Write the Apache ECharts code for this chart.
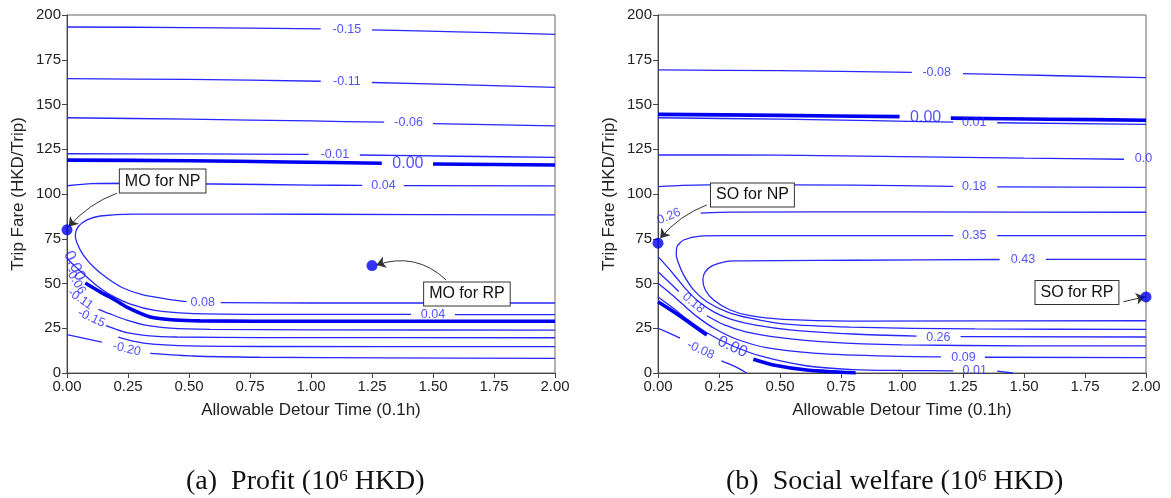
<!DOCTYPE html>
<html><head><meta charset="utf-8">
<script src="https://cdn.jsdelivr.net/npm/echarts@6/dist/echarts.min.js"></script>
<style>html,body{margin:0;padding:0;background:#fff}#c{width:1171px;height:498px}</style>
</head><body><div id="c"></div>
<script>
const GAP = ['-', '-'];
const xTicks = [0, 0.25, 0.5, 0.75, 1.0, 1.25, 1.5, 1.75, 2.0];
const yTicks = [0, 25, 50, 75, 100, 125, 150, 175, 200];

// ---- (a) Profit contours [detour, fare]
const profit_m015 = [[0,193.3],[0.5,193.0],[1.04,192.3],GAP,[1.25,191.7],[1.6,190.6],[2,189.2]];
const profit_m011 = [[0,164.4],[0.5,164.0],[1.04,163.0],GAP,[1.25,162.3],[1.6,161.1],[2,159.6]];
const profit_m006 = [[0,142.6],[0.5,141.8],[1.0,140.8],[1.30,140.1],GAP,[1.50,139.3],[2,138.1]];
const profit_m001 = [[0,122.5],[0.5,122.4],[0.99,122.1],GAP,[1.2,121.8],[1.6,121.1],[2,120.5]];
const profit_000  = [[0,118.9],[0.5,118.6],[0.9,117.9],[1.29,117.2],GAP,[1.50,116.8],[2,116.2]];
const profit_004  = [[0,104.6],[0.1,105.8],[0.25,106.0],[0.6,105.6],[1.0,105.0],[1.21,104.8],GAP,[1.38,104.7],[2,104.5]];
const profit_008  = [[2,88.3],[1.0,88.7],[0.5,88.8],[0.271,88.8],[0.136,87.7],[0.082,85.5],[0.046,81.7],[0.034,77.1],[0.041,72.6],[0.067,65.9],[0.108,59.4],[0.164,53.1],[0.23,47.5],[0.312,43.6],[0.41,41.3],[0.49,39.9],GAP,[0.63,39.3],[1.0,39.1],[2,39.1]];
const profit_004b = [[0,64],[0.03,60],[0.07,55],[0.12,49],[0.18,43.5],[0.26,38.5],[0.36,35],[0.5,33.3],[0.75,32.8],[1.41,32.7],GAP,[1.59,32.6],[2,32.6]];
const profit_000b = [[0.075,50.3],[0.136,45.3],[0.197,40.8],[0.245,36.8],[0.341,31.3],[0.443,29.6],[0.545,29.1],[1.0,28.9],[2,28.9]];
const profit_m006b = [[0.129,35.6],[0.177,33.0],[0.245,29.6],[0.327,26.6],[0.423,25.1],[0.587,24.4],[1.0,24.1],[2,24.0]];
const profit_m011b = [[0.16,26.5],[0.2,24.5],[0.245,22.6],[0.327,20.9],[0.45,20.1],[0.8,19.8],[2,19.7]];
const profit_m015b = [[0.21,20],[0.27,17.8],[0.35,16.1],[0.5,15.1],[0.8,14.8],[2,14.7]];
const profit_m020 = [[0,21.4],[0.143,17.3],GAP,[0.341,11.0],[0.517,9.5],[0.79,8.8],[1.3,8.4],[2,8.2]];
const profitThin = [profit_m015, profit_m011, profit_m006, profit_m001, profit_004, profit_008, profit_004b, profit_m006b, profit_m011b, profit_m015b, profit_m020];
const profitThick = [profit_000, profit_000b];
const profitLabels = [['-0.15',1.147,191.9],['-0.11',1.147,162.6],['-0.06',1.40,139.7],['-0.01',1.098,121.9],['0.00',1.397,116.9],['0.04',1.297,104.7],['0.08',0.556,39.6],['0.04',1.50,32.6],['0.00',0.03,59.8],['-0.06',0.035,51.4],['-0.11',0.055,41.3],['-0.15',0.10,30.7],['-0.20',0.245,13.4]];

// ---- (b) Social welfare contours
const sw_m008 = [[0,169.3],[0.5,168.9],[1.04,168.0],GAP,[1.25,167.3],[1.6,166.2],[2,165.0]];
const sw_000  = [[0,144.5],[0.5,143.9],[0.99,143.2],GAP,[1.2,142.4],[1.6,141.8],[2,141.2]];
const sw_001  = [[0,142.6],[0.5,141.8],[0.88,141.0],[1.21,140.1],GAP,[1.39,139.8],[2,138.9]];
const sw_009  = [[0,121.8],[0.5,121.7],[1.0,120.9],[1.5,120.0],[1.91,119.4]];
const sw_018  = [[0,104.1],[0.1,104.8],[0.3,105.2],[0.8,105.0],[1.21,104.3],GAP,[1.39,104.0],[2,103.7]];
const sw_026  = [[0.175,89.3],[0.3,89.9],[1.0,90.0],[2,89.8]];
const sw_035  = [[2,76.7],[1.39,76.7],GAP,[1.21,76.7],[0.6,76.8],[0.3,76.7],[0.173,76.5],[0.105,74.3],[0.078,70.6],[0.075,65.9],[0.084,61.3],[0.105,54.8],[0.146,46.4],[0.2,39.8],[0.283,34.2],[0.378,30.6],[0.513,27.4],[0.788,25.6],[1.3,24.6],[2,24.4]];
const sw_043  = [[2,63.5],[1.59,63.5],GAP,[1.40,63.4],[0.8,63.0],[0.31,62.6],[0.228,60.3],[0.194,56.6],[0.184,52.0],[0.194,46.4],[0.228,40.8],[0.296,35.2],[0.378,32.0],[0.513,30.0],[0.788,29.0],[2,29.2]];
const sw_026b = [[0,65],[0.04,59],[0.08,52.5],[0.12,46],[0.17,39.5],[0.23,34],[0.3,30],[0.4,26.8],[0.55,24],[0.8,21.8],[1.06,20.6],GAP,[1.24,20.3],[2,20.1]];
const sw_018b = [[0,56.6],[0.04,51.5],[0.085,45.5],GAP,[0.2,32],[0.27,27],[0.36,23],[0.5,19.8],[0.7,17.2],[1.0,15.7],[1.5,15.2],[2,15.1]];
const sw_009b = [[0,50.1],[0.05,44.5],[0.1,38.5],[0.16,31.5],[0.23,25],[0.32,19],[0.45,14],[0.65,11],[0.95,9.4],[1.16,9.0],GAP,[1.34,8.8],[2,8.6]];
const sw_001b = [[0,42.5],[0.06,36.5],[0.12,30],[0.2,22.5],[0.3,15.5],[0.42,9.5],[0.6,4.2],[0.8,1.9],[1.0,1.4],[1.21,1.2],GAP,[1.39,1.0],[1.455,0]];
const sw_000b = [[0,39.8],[0.064,34.2],[0.132,27.8],[0.2,21.2],GAP,[0.391,7.7],[0.473,4.5],[0.61,1.7],[0.788,0.2],[0.81,0]];
const sw_m008b = [[0,25],[0.064,21.2],[0.09,19.5],GAP,[0.26,6.8],[0.31,4],[0.364,0]];
const swThin = [sw_m008, sw_001, sw_009, sw_018, sw_026, sw_035, sw_043, sw_026b, sw_018b, sw_009b, sw_001b, sw_m008b];
const swThick = [sw_000, sw_000b];
const swLabels = [['-0.08',1.142,167.6],['0.00',1.097,142.8],['0.01',1.296,139.8],['0.0',1.99,119.6],['0.18',1.296,104.1],['0.35',1.296,76.7],['0.43',1.496,63.5],['0.26',1.149,20.0],['0.09',1.252,8.7],['0.01',1.298,1.3],['0.26',0.045,87.5],['0.18',0.145,39.1],['0.00',0.305,14.5],['-0.08',0.175,12.8]];

// ---- optimum points and annotation boxes
const profitPoints = [[0,80],[1.25,60]];
const swPoints = [[0,72.5],[2,42.5]];
const profitNotes = [['MO for NP',0.392,107.2],['MO for RP',1.639,44.2]];
const swNotes = [['SO for NP',0.387,99.4],['SO for RP',1.717,45.0]];
const profitArrows = [[[0.204,100.4],[0.007,81.7]],[[1.554,52.0],[1.268,60.3]]];
const swArrows = [[[0.2,93.9],[0.009,75.3]],[[1.907,39.8],[1.996,42.6]]];

// ---- styles
const BLUE = '#2626ff';
const profitRot = [0,0,0,0,0,0,0,0,-65,-60,-35,-25,-13];
const swRot = [0,0,0,0,0,0,0,0,0,0,22,-40,-25,-25];
const profitCurv = [-0.13,-0.3];
const swCurv = [-0.13,0];

function lineSeries(g, data, thick){
  return {type:'line', xAxisIndex:g, yAxisIndex:g, data:data, symbol:'none', showSymbol:false,
    smooth:0.25, connectNulls:false, silent:true, z:2,
    lineStyle:{color: thick ? '#0000f0' : BLUE, width: thick ? 3.6 : 1.3}};
}
function labelSeries(g, labels, rot){
  return {type:'scatter', xAxisIndex:g, yAxisIndex:g, symbolSize:0, silent:true, z:5,
    data: labels.map((l,i)=>({value:[l[1],l[2]], label:{show:true, position:'inside', formatter:l[0],
      rotate: rot[i], fontSize: l[0]==='0.00' ? 16 : 12.5, color: BLUE, fontFamily:'Liberation Sans, Arial'}}))};
}
function pointSeries(g, pts, notes){
  return {type:'scatter', xAxisIndex:g, yAxisIndex:g, symbolSize:11, clip:false, z:6, silent:true,
    itemStyle:{color:'#0000ee'}, data: pts,
    markPoint:{silent:true, symbol:'rect', symbolSize:0, animation:false,
      data: notes.map(n=>({coord:[n[1],n[2]], label:{show:true, position:'inside', formatter:n[0],
        fontSize:16, color:'#111', fontFamily:'Liberation Sans, Arial', backgroundColor:'#fff',
        borderColor:'#333', borderWidth:1, padding:[4,5,3,5]}}))}};
}
function arrowSeries(g, arrows, curv){
  return {type:'lines', coordinateSystem:'cartesian2d', xAxisIndex:g, yAxisIndex:g, silent:true, z:6,
    symbol:['none','arrow'], symbolSize:[7,9], animation:false,
    data: arrows.map((a,i)=>({coords:[a[0],a[1]], lineStyle:{curveness:curv[i]}})),
    lineStyle:{color:'#333', width:1, opacity:1, type:'solid'}};
}
function xAxis(g){
  return {type:'value', gridIndex:g, min:0, max:2, interval:0.25,
    name:'Allowable Detour Time (0.1h)', nameLocation:'middle', nameGap:29,
    nameTextStyle:{fontSize:17, color:'#222', fontFamily:'Liberation Sans, Arial'},
    axisLine:{show:true, lineStyle:{color:'#444'}}, axisTick:{show:true, length:5, lineStyle:{color:'#444'}},
    splitLine:{show:false},
    axisLabel:{fontSize:15, color:'#222', margin:6, fontFamily:'Liberation Sans, Arial', formatter:v=>v.toFixed(2)}};
}
function yAxis(g){
  return {type:'value', gridIndex:g, min:0, max:200, interval:25,
    name:'Trip Fare (HKD/Trip)', nameLocation:'middle', nameGap:40,
    nameTextStyle:{fontSize:17, color:'#222', fontFamily:'Liberation Sans, Arial'},
    axisLine:{show:true, lineStyle:{color:'#444'}}, axisTick:{show:true, length:5, lineStyle:{color:'#444'}},
    splitLine:{show:false},
    axisLabel:{fontSize:15, color:'#222', margin:6, fontFamily:'Liberation Sans, Arial'}};
}

const series = [];
profitThin.forEach(d=>series.push(lineSeries(0,d,false)));
profitThick.forEach(d=>series.push(lineSeries(0,d,true)));
swThin.forEach(d=>series.push(lineSeries(1,d,false)));
swThick.forEach(d=>series.push(lineSeries(1,d,true)));
series.push(labelSeries(0, profitLabels, profitRot));
series.push(labelSeries(1, swLabels, swRot));
series.push(arrowSeries(0, profitArrows, profitCurv));
series.push(arrowSeries(1, swArrows, swCurv));
series.push(pointSeries(0, profitPoints, profitNotes));
series.push(pointSeries(1, swPoints, swNotes));

const capStyle = {fontFamily:'Liberation Serif, Times New Roman', fontSize:28, fill:'#111',
  rich:{s:{fontSize:17, verticalAlign:'top', fontFamily:'Liberation Serif'}}};

const chart = echarts.init(document.getElementById('c'), null, {renderer:'canvas'});
chart.setOption({
  animation:false, backgroundColor:'#fff',
  grid:[{left:67, top:15, width:488, height:358, show:true, borderColor:'#666', borderWidth:1},
        {left:658, top:15, width:488, height:358, show:true, borderColor:'#666', borderWidth:1}],
  xAxis:[xAxis(0), xAxis(1)],
  yAxis:[yAxis(0), yAxis(1)],
  series: series,
  graphic:[
    {type:'text', left:186, top:468, style:Object.assign({text:'(a)  Profit (10{s|6} HKD)'}, capStyle)},
    {type:'text', left:726, top:468, style:Object.assign({text:'(b)  Social welfare (10{s|6} HKD)'}, capStyle)}
  ]
});
</script></body></html>
